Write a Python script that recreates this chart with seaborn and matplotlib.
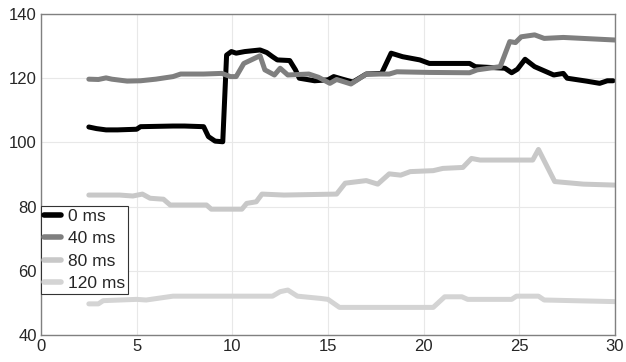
import numpy as np
import pandas as pd
import matplotlib
matplotlib.use("Agg")
import matplotlib.pyplot as plt
import seaborn as sns

# Series data (time on x, value on y)
labels = ["0 ms", "40 ms", "80 ms", "120 ms"]
colors = ["#000000", "#7f7f7f", "#c8c8c8", "#d4d4d4"]

x0 = [2.5, 2.9, 3.4, 4.0, 5.0, 5.2, 6.9, 7.5, 8.5, 8.75, 9.1, 9.5, 9.7, 9.95, 10.2,
      10.65, 11.45, 11.8, 12.1, 12.35, 13.0, 13.3, 13.5, 14.3, 15.0, 15.3, 15.7, 16.3,
      17.0, 17.8, 18.3, 18.9, 19.8, 20.3, 22.4, 22.7, 24.25, 24.6, 24.9, 25.3, 25.8,
      26.8, 27.3, 27.5, 28.5, 29.2, 29.6, 29.9]
y0 = [104.8, 104.3, 103.9, 103.9, 104.1, 104.9, 105.1, 105.1, 104.9, 101.8, 100.4,
      100.2, 127.2, 128.3, 127.8, 128.3, 128.8, 128.0, 126.7, 125.7, 125.5, 122.6,
      120.0, 119.2, 119.5, 120.5, 119.8, 118.8, 121.3, 121.5, 127.8, 126.7, 125.7,
      124.6, 124.6, 123.6, 123.1, 121.7, 122.8, 125.9, 123.6, 121.0, 121.5, 120.0,
      119.1, 118.4, 119.2, 119.2]

x1 = [2.5, 3.0, 3.4, 3.7, 4.5, 5.2, 6.0, 6.9, 7.3, 8.5, 9.45, 9.9, 10.2, 10.6, 11.45,
      11.7, 12.2, 12.5, 12.9, 14.0, 14.5, 15.1, 15.45, 16.2, 17.0, 18.2, 18.6, 20.3,
      22.4, 22.8, 24.0, 24.5, 24.8, 25.1, 25.8, 26.3, 27.3, 30.0]
y1 = [119.7, 119.6, 120.1, 119.7, 119.1, 119.2, 119.7, 120.5, 121.3, 121.3, 121.5,
      120.5, 120.5, 124.6, 127.0, 122.6, 121.0, 123.1, 121.0, 121.3, 120.3, 118.4,
      119.6, 118.2, 121.3, 121.3, 122.0, 121.8, 121.7, 122.6, 123.6, 131.4, 131.1,
      132.9, 133.5, 132.4, 132.7, 131.9]

x2 = [2.5, 4.1, 4.8, 5.3, 5.7, 6.4, 6.75, 8.65, 8.9, 10.5, 10.75, 11.25, 11.55, 12.7,
      15.45, 15.9, 17.0, 17.6, 18.2, 18.8, 19.3, 20.5, 21.0, 22.05, 22.5, 22.95, 25.7,
      26.0, 26.85, 28.35, 30.0]
y2 = [83.6, 83.6, 83.3, 83.9, 82.6, 82.3, 80.5, 80.5, 79.2, 79.2, 81.0, 81.5, 83.9,
      83.6, 83.9, 87.3, 88.1, 87.0, 90.2, 89.8, 90.9, 91.2, 91.9, 92.2, 95.0, 94.5,
      94.5, 97.8, 87.8, 87.0, 86.7]

x3 = [2.5, 3.0, 3.25, 5.0, 5.5, 6.9, 12.1, 12.5, 12.9, 13.4, 14.6, 15.0, 15.6, 20.5,
      21.1, 22.0, 22.3, 24.6, 24.85, 26.0, 26.3, 30.0]
y3 = [49.7, 49.7, 50.7, 51.1, 50.9, 52.1, 52.1, 53.5, 54.0, 52.1, 51.4, 51.1, 48.6,
      48.6, 51.9, 51.9, 51.1, 51.1, 52.1, 52.1, 50.9, 50.4]

x_ticks = [0, 5, 10, 15, 20, 25, 30]
y_ticks = [40, 60, 80, 100, 120, 140]

frames = []
for lab, xs, ys in zip(labels, [x0, x1, x2, x3], [y0, y1, y2, y3]):
    frames.append(pd.DataFrame({"t": xs, "v": ys, "delay": lab}))
df = pd.concat(frames, ignore_index=True)

sns.set_style("whitegrid")
plt.rcParams["font.family"] = ["Liberation Sans", "DejaVu Sans"]

fig = plt.figure(figsize=(6.26, 3.62), dpi=100)
ax = fig.add_axes([0.0655, 0.0746, 0.9169, 0.8867])

sns.lineplot(data=df, x="t", y="v", hue="delay", hue_order=labels,
             palette=dict(zip(labels, colors)), sort=False, estimator=None,
             units="delay", linewidth=3.6, ax=ax, legend=True)

ax.set_xlim(0, 30)
ax.set_ylim(40, 140)
ax.set_xticks(x_ticks)
ax.set_yticks(y_ticks)
ax.set_xlabel("")
ax.set_ylabel("")
ax.grid(True, color="#e8e8e8", linewidth=0.8)
for s in ax.spines.values():
    s.set_visible(True)
    s.set_color("#808080")
    s.set_linewidth(1.0)
ax.tick_params(axis="both", labelsize=12, colors="#262626", length=0, pad=3)

leg = ax.legend(loc="lower left", bbox_to_anchor=(0.0, 0.128), fontsize=12.5,
                frameon=True, fancybox=False, framealpha=1.0, edgecolor="#333333",
                handlelength=1.0, handletextpad=0.4, labelspacing=0.42,
                borderpad=0.15, borderaxespad=0.0)
leg.get_frame().set_linewidth(0.8)
for h in leg.get_lines():
    h.set_linewidth(4)

fig.savefig("out.png", dpi=100)
